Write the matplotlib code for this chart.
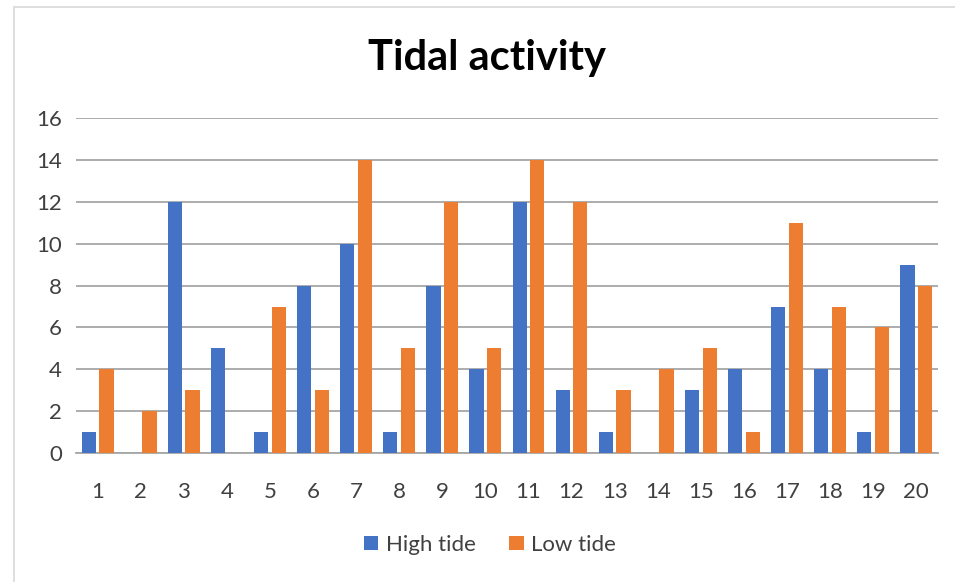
import numpy as np
import matplotlib
matplotlib.use("Agg")
import matplotlib.pyplot as plt
from matplotlib.patches import Rectangle

categories = [str(i) for i in range(1, 21)]
high_tide = [1, 0, 12, 5, 1, 8, 10, 1, 8, 4, 12, 3, 1, 0, 3, 4, 7, 4, 1, 9]
low_tide = [4, 2, 3, 0, 7, 3, 14, 5, 12, 5, 14, 12, 3, 4, 5, 1, 11, 7, 6, 8]

plt.rcParams['font.family'] = ['Lato', 'DejaVu Sans']

fig = plt.figure(figsize=(9.55, 5.82), dpi=100)
ax = fig.add_axes([0.0796, 0.2216, 0.9024, 0.5754])

# outer chart border (light grey, like the spreadsheet chart frame)
fig.patches.append(Rectangle((14 / 955, -0.01), 1.0, 1 - 7 / 582 + 0.01,
                             transform=fig.transFigure, fill=False,
                             edgecolor="#d9d9d9", linewidth=1.2))

x = np.arange(len(categories))
w = 0.33
ax.bar(x - 0.205, high_tide, w, color="#4472C4", label="High tide", zorder=3)
ax.bar(x + 0.205, low_tide, w, color="#ED7D31", label="Low tide", zorder=3)

ax.set_xlim(-0.5, len(categories) - 0.5)
ax.set_ylim(0, 16)
ax.set_yticks(range(0, 17, 2))
ax.set_xticks(x)
ax.set_xticklabels(categories)
ax.yaxis.grid(True, color="#a6a6a6", linewidth=1.3, zorder=0)
for s in ["top", "right", "left"]:
    ax.spines[s].set_visible(False)
ax.spines["bottom"].set_color("#a6a6a6")
ax.spines["bottom"].set_linewidth(1.3)
ax.tick_params(axis="both", length=0, labelsize=16, labelcolor="#404040")
ax.tick_params(axis="x", pad=21)
ax.tick_params(axis="y", pad=10)

fig.text(0.51, 0.9, "Tidal activity", ha="center", va="center",
         fontsize=30, fontweight="bold", color="black")

fig.legend(loc="center", bbox_to_anchor=(0.513, 0.064), ncol=2, frameon=False,
           fontsize=16, handlelength=0.65, handleheight=0.65, handletextpad=0.35,
           columnspacing=1.5, labelcolor="#404040")

fig.savefig("out.png", dpi=100)
